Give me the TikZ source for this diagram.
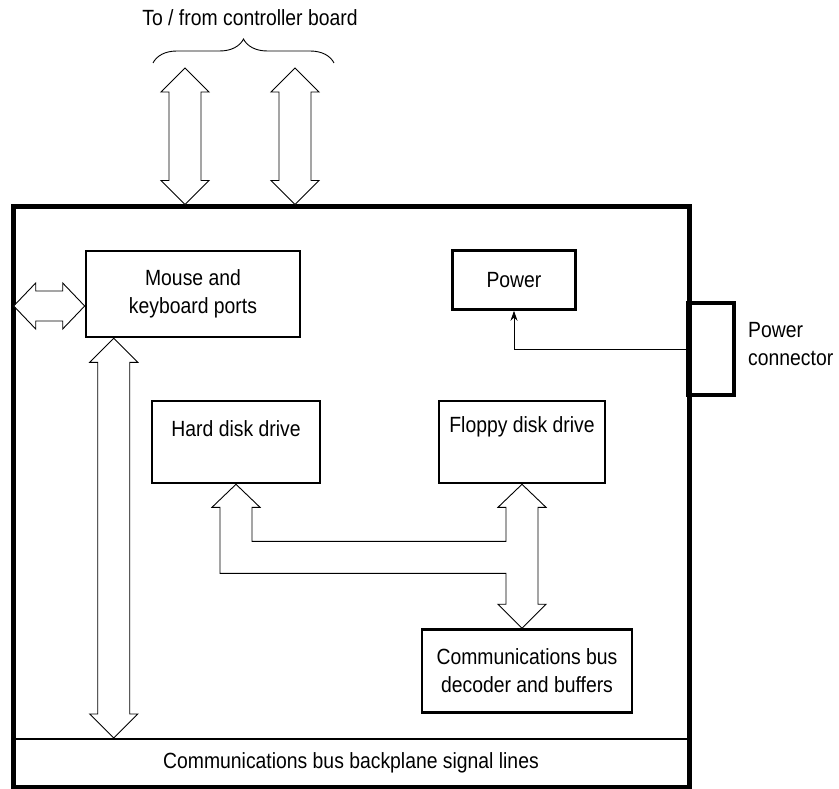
\documentclass[tikz,border=0pt]{standalone}
\usepackage{fontspec}
\setmainfont{Liberation Sans}[FakeStretch=0.88]
\usetikzlibrary{arrows.meta,calc,decorations.pathreplacing}

% fat outlined double arrows: vertical (top tip, bottom tip), horizontal (left tip, right tip)
\newcommand\fatv[2]{\draw[fat] #1 -- ++(24,24) -- ++(-8,0) -- ($#2+(16,-24)$) -- ++(8,0) -- #2
  -- ++(-24,-24) -- ++(8,0) -- ($#1+(-16,24)$) -- ++(-8,0) -- cycle;}
\newcommand\fath[2]{\draw[fat] #1 -- ++(22,-23) -- ++(0,8) -- ($#2+(-22,-15)$) -- ++(0,-8) -- #2
  -- ++(-22,23) -- ++(0,-8) -- ($#1+(22,15)$) -- ++(0,8) -- cycle;}

\begin{document}
\begin{tikzpicture}
        [%%%%%%%%%%%%%%%%%%%%%%%%%%%%%%
        x=1pt, y=-1pt,
        every node/.style={font=\fontsize{22}{28}\selectfont},
        box/.style={rectangle,draw=black,line width=2.6pt,align=center},
        frame/.style={rectangle,draw=black,line width=5pt},
        fat/.style={draw=black,fill=white,line width=0.9pt},
        lbl/.style={anchor=north,inner sep=0pt},
        ]%%%%%%%%%%%%%%%%%%%%%%%%%%%%%%
        \useasboundingbox (0,0) rectangle (839,789);

        \node[rectangle,draw=black,line width=2pt,minimum width=676pt,minimum height=48pt] (bar) at (351,763)
          {Communications bus backplane signal lines};
        \node[frame,minimum width=676pt,minimum height=580pt] (board) at (351,497) {};
        \node[frame,line width=4pt,minimum width=46pt,minimum height=92pt] (conn) at (711,349) {};
        \node[anchor=west,align=left,inner sep=0pt] (conntxt) at (748,344) {Power\\connector};

        \node[box,minimum width=214pt,minimum height=86pt] (mouse) at (193,294) {Mouse and\\keyboard ports};
        \node[box,minimum width=123pt,minimum height=59pt] (power) at (514,280) {Power};
        \node[box,minimum width=168pt,minimum height=82pt,
          label={[lbl,yshift=-21pt]north:Hard disk drive}] (hdd) at (236,442) {};
        \node[box,minimum width=166pt,minimum height=82pt,
          label={[lbl,yshift=-17pt]north:Floppy disk drive}] (floppy) at (522,442) {};
        \node[box,minimum width=210pt,minimum height=83pt] (dec) at (527,671)
          {Communications bus\\decoder and buffers};

        % to / from controller board
        \node (ctltxt) at (250,18) {To / from controller board};
        \draw[line width=0.9pt,decorate,decoration={brace,amplitude=24pt}] (153,63) -- (334,63);
        \coordinate (ctlA) at (185,68);
        \coordinate (ctlB) at (295,68);
        \fatv{(ctlA)}{(board.north -| ctlA)}
        \fatv{(ctlB)}{(board.north -| ctlB)}

        % ports and backplane
        \coordinate (portL) at ($(mouse.west)+(-71,12)$);
        \fath{(portL)}{($(mouse.west)+(0,12)$)}
        \coordinate (portB) at ($(mouse.south west)+(29,0)$);
        \fatv{(portB)}{(bar.north -| portB)}

        % power feed
        \draw[line width=0.9pt,-{Stealth[length=10pt,width=7pt]}] (conn.west) -| (power.south);

        % drive bus
        \coordinate (hT) at (hdd.south);
        \coordinate (fT) at (floppy.south);
        \coordinate (dT) at (floppy.south |- dec.north);
        \draw[fat] (hT) -- ++(24,23) -- ++(-8,0) |- ($(fT)+(-16,57)$) -- ++(0,-34) -- ++(-8,0) -- (fT)
          -- ++(24,23) -- ++(-8,0) -- ($(dT)+(16,-24)$) -- ++(8,0) -- (dT) -- ++(-24,-24) -- ++(8,0)
          |- ($(hT)+(-16,89)$) -- ++(0,-66) -- ++(-8,0) -- cycle;

      \end{tikzpicture}
\end{document}
